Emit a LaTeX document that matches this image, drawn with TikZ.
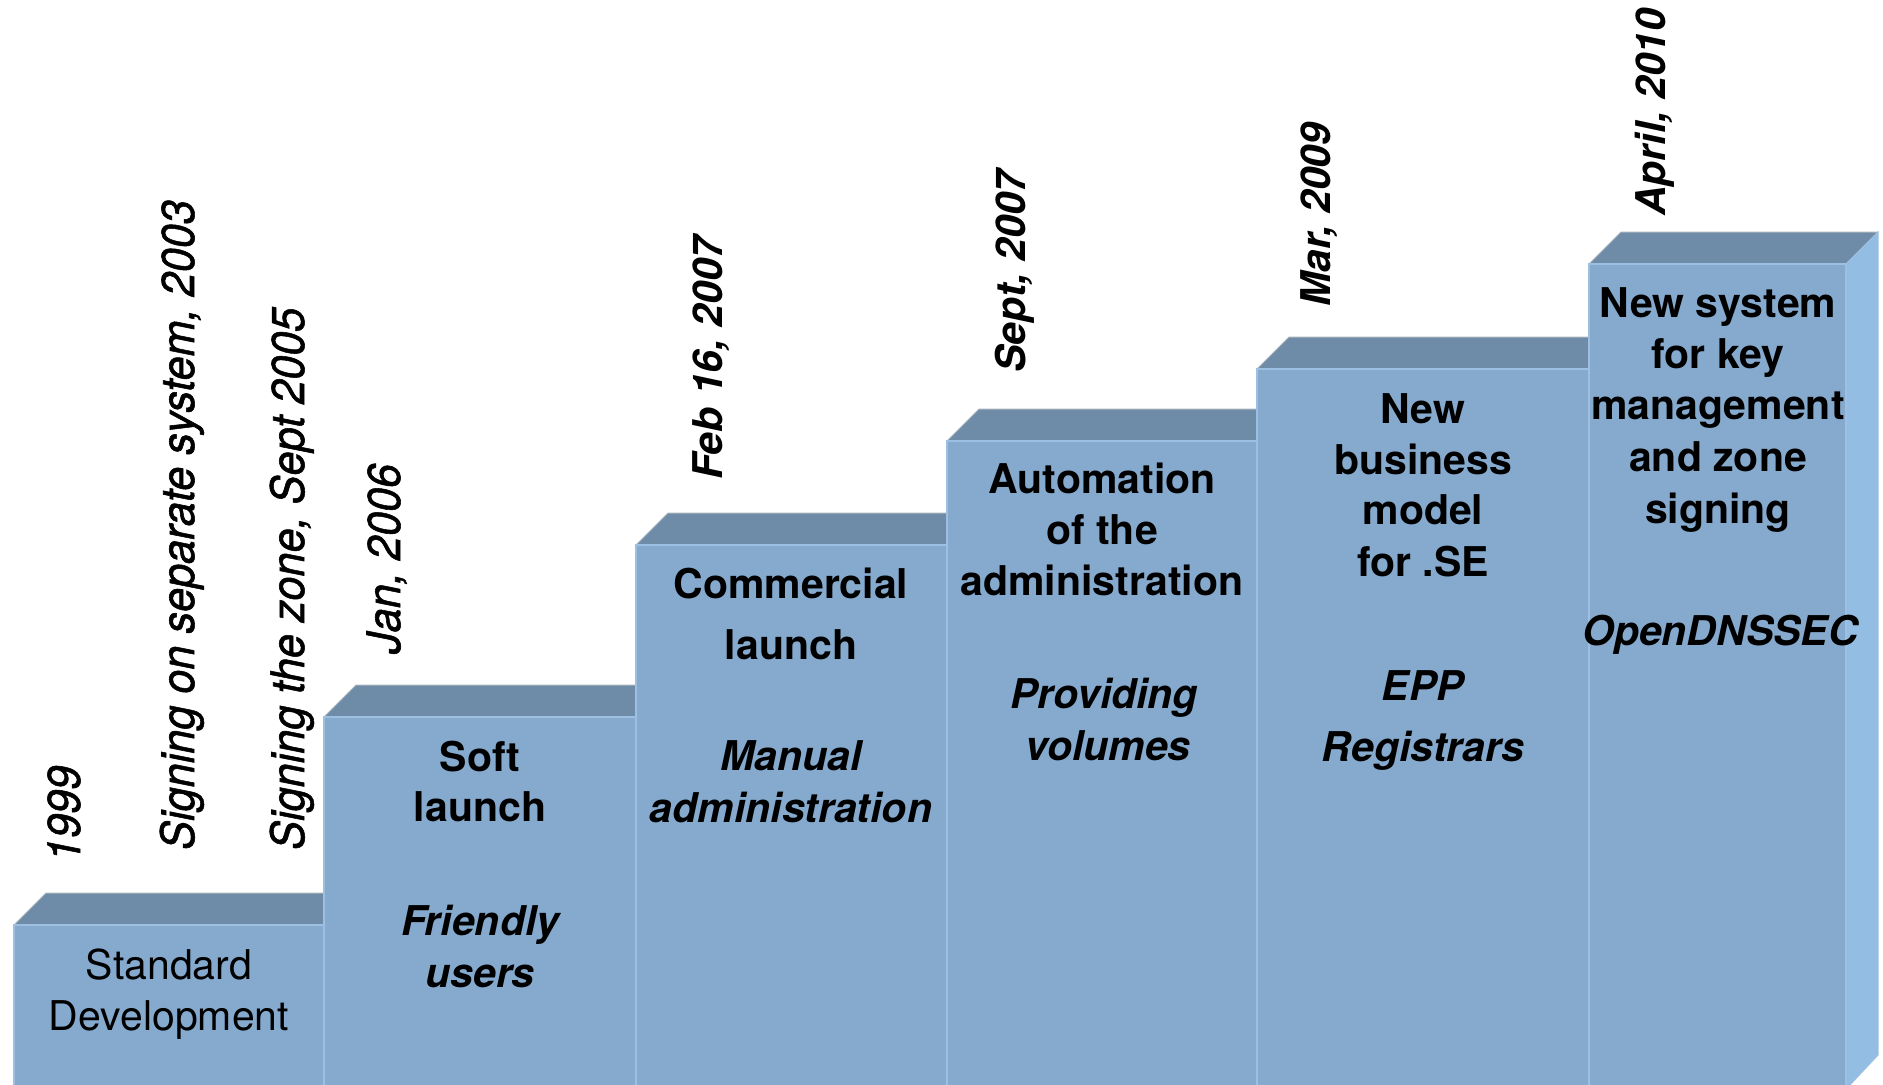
\documentclass[tikz,border=0pt]{standalone}
\usepackage{fontspec}
\setmainfont{TeX Gyre Heros}
\newfontfamily\narrowfont[FakeStretch=0.94,FakeBold=1.2]{TeX Gyre Heros}
\definecolor{frontc}{HTML}{85AACE}
\definecolor{topc}{HTML}{6E8CA8}
\definecolor{sidec}{HTML}{93BDE3}
\definecolor{edgec}{HTML}{9DC0E2}
\definecolor{rimc}{HTML}{A9B4BF}
\tikzset{
  frontface/.style={fill=frontc, draw=edgec, line width=1.2bp},
  topface/.style={fill=topc, draw=rimc, line width=1bp},
  sideface/.style={fill=sidec, draw=edgec, line width=1bp},
  ttl/.style={font=\bfseries\fontsize{41bp}{50bp}\selectfont, inner sep=0pt, anchor=base},
  subt/.style={font=\bfseries\itshape\fontsize{41bp}{50bp}\selectfont, inner sep=0pt, anchor=base},
  txtplain/.style={font=\fontsize{41bp}{50bp}\selectfont, inner sep=0pt, anchor=base},
  datea/.style={font=\narrowfont\itshape\fontsize{46bp}{50bp}\selectfont, rotate=90, anchor=base west, inner sep=0pt},
  dateb/.style={font=\bfseries\itshape\fontsize{41bp}{50bp}\selectfont, rotate=90, anchor=base west, inner sep=0pt}
}
\begin{document}
\begin{tikzpicture}[x=1bp,y=-1bp]
\useasboundingbox (0,0) rectangle (1883,1084);
\def\dd{32}
% box 1
\draw[topface] (14,925) -- (14+\dd,925-\dd) -- (324+\dd,925-\dd) -- (324,925) -- cycle;
\draw[frontface] (14,925) rectangle (324,1090);
% box 2
\draw[topface] (324,717) -- (324+\dd,717-\dd) -- (636+\dd,717-\dd) -- (636,717) -- cycle;
\draw[frontface] (324,717) rectangle (636,1090);
% box 3
\draw[topface] (636,545) -- (636+\dd,545-\dd) -- (947+\dd,545-\dd) -- (947,545) -- cycle;
\draw[frontface] (636,545) rectangle (947,1090);
% box 4
\draw[topface] (947,441) -- (947+\dd,441-\dd) -- (1257+\dd,441-\dd) -- (1257,441) -- cycle;
\draw[frontface] (947,441) rectangle (1257,1090);
% box 5
\draw[topface] (1257,369) -- (1257+\dd,369-\dd) -- (1589+\dd,369-\dd) -- (1589,369) -- cycle;
\draw[frontface] (1257,369) rectangle (1589,1090);
% box 6
\draw[topface] (1589,264) -- (1589+\dd,264-\dd) -- (1846+\dd,264-\dd) -- (1846,264) -- cycle;
\draw[sideface] (1846,264) -- (1846+\dd,264-\dd) -- (1846+\dd,1055) -- (1849,1086) -- (1846,1086) -- cycle;
\draw[frontface] (1589,264) rectangle (1846,1090);

% box texts
\node[txtplain] (b1a) at (169,979) {Standard};
\node[txtplain] (b1b) at (169,1030) {Development};

\node[ttl] (b2a) at (480,771) {Soft};
\node[ttl] (b2b) at (480,821) {launch};
\node[subt] (b2c) at (480,935) {Friendly};
\node[subt] (b2d) at (480,987) {users};

\node[ttl] (b3a) at (791,598) {Commercial};
\node[ttl] (b3b) at (791,659) {launch};
\node[subt] (b3c) at (791,770) {Manual};
\node[subt] (b3d) at (791,822) {administration};

\node[ttl] (b4a) at (1102,493) {Automation};
\node[ttl] (b4b) at (1102,544) {of the};
\node[ttl] (b4c) at (1102,595) {administration};
\node[subt] (b4d) at (1104,708) {Providing};
\node[subt] (b4e) at (1108,760) {volumes};

\node[ttl] (b5a) at (1423,423) {New};
\node[ttl] (b5b) at (1423,474) {business};
\node[ttl] (b5c) at (1423,524) {model};
\node[ttl] (b5d) at (1423,576) {for .SE};
\node[subt] (b5e) at (1423,700) {EPP};
\node[subt] (b5f) at (1423,761) {Registrars};

\node[ttl] (b6a) at (1718,317) {New system};
\node[ttl] (b6b) at (1718,368) {for key};
\node[ttl] (b6c) at (1718,419) {management};
\node[ttl] (b6d) at (1718,471) {and zone};
\node[ttl] (b6e) at (1718,523) {signing};
\node[subt] (b6f) at (1720,645) {OpenDNSSEC};

% date labels
\node[datea] (d1) at (80,862) {1999};
\node[datea] (d2) at (194,850) {Signing on separate system, 2003};
\node[datea] (d3) at (304,850) {Signing the zone, Sept 2005};
\node[datea] (d4) at (400,654) {Jan, 2006};
\node[dateb] (d5) at (722,480) {Feb 16, 2007};
\node[dateb] (d6) at (1025,373) {Sept, 2007};
\node[dateb] (d7) at (1330,307) {Mar, 2009};
\node[dateb] (d8) at (1665,216) {April, 2010};
\end{tikzpicture}
\end{document}
